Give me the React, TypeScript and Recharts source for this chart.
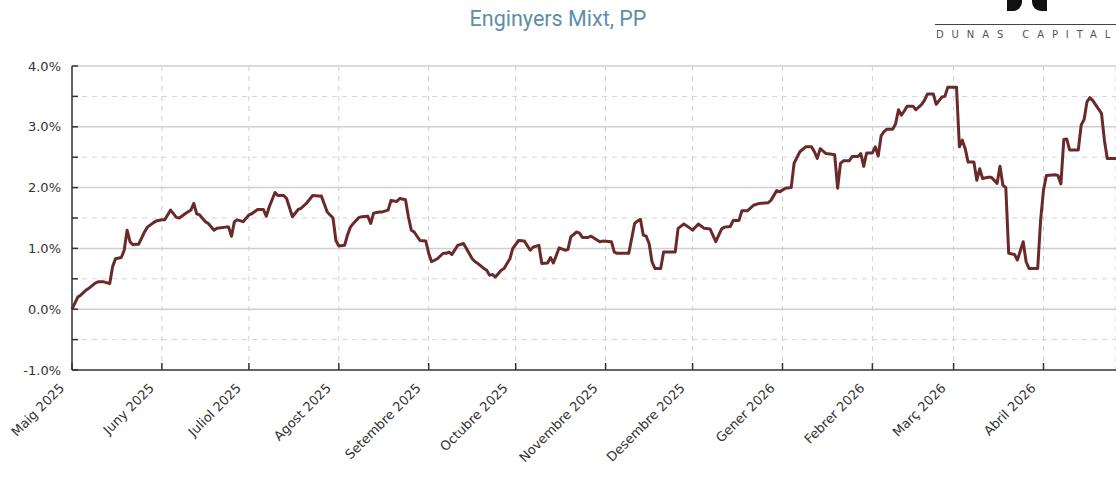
import React from "react";
import { LineChart, Line, XAxis, YAxis, CartesianGrid, ReferenceLine } from "recharts";

// days since 1 May 2025, and return in %
const days = [
  0, 1, 2, 3, 5, 6, 8, 9, 11, 13, 14, 15, 17, 18, 19, 20, 21, 22, 23, 25, 26, 28, 29, 31, 32, 34, 36, 37, 39, 41,
  42, 43, 44, 46, 47, 49, 50, 53, 54, 55, 56, 57, 59, 61, 62, 64, 66, 67, 68, 70, 71, 73, 74, 76, 78, 79, 81, 83, 85, 86,
  88, 90, 91, 92, 94, 95, 96, 97, 99, 100, 102, 103, 104, 106, 107, 109, 110, 112, 113, 115, 116, 117, 118, 120, 122, 123, 124, 126, 128, 129,
  130, 131, 133, 135, 136, 138, 139, 140, 142, 143, 144, 145, 146, 148, 149, 151, 152, 154, 156, 158, 159, 161, 162, 164, 165, 166, 168, 170, 171, 172,
  174, 175, 176, 178, 179, 182, 183, 186, 187, 188, 190, 192, 194, 195, 196, 197, 198, 199, 200, 201, 203, 204, 206, 208, 209, 211, 212, 214, 216, 218,
  220, 222, 224, 225, 227, 228, 230, 231, 233, 235, 237, 240, 241, 243, 244, 246, 248, 249, 251, 253, 255, 256, 257, 258, 260, 262, 263, 264, 265, 266,
  268, 269, 271, 272, 273, 274, 276, 277, 278, 279, 280, 281, 283, 284, 285, 286, 287, 288, 290, 291, 293, 294, 295, 297, 298, 299, 300, 301, 302, 305,
  306, 307, 308, 309, 311, 312, 313, 314, 316, 317, 319, 320, 321, 322, 323, 325, 326, 328, 329, 330, 333, 334, 335, 336, 339, 340, 341, 342, 343, 344,
  347, 348, 349, 350, 351, 352, 355, 356, 357, 360,
];
const values = [
  0.0, 0.1, 0.2, 0.23, 0.32, 0.35, 0.43, 0.45, 0.45, 0.42, 0.7, 0.83, 0.85, 0.97, 1.3, 1.11, 1.06, 1.07, 1.07, 1.27, 1.35, 1.42, 1.45, 1.47, 1.47, 1.63, 1.51, 1.5, 1.57, 1.63,
  1.74, 1.57, 1.55, 1.44, 1.41, 1.3, 1.33, 1.35, 1.35, 1.2, 1.44, 1.47, 1.44, 1.55, 1.57, 1.64, 1.64, 1.53, 1.68, 1.92, 1.87, 1.87, 1.82, 1.52, 1.64, 1.66, 1.75, 1.87, 1.86, 1.86,
  1.6, 1.5, 1.13, 1.04, 1.05, 1.22, 1.35, 1.41, 1.51, 1.52, 1.53, 1.41, 1.58, 1.6, 1.6, 1.63, 1.79, 1.77, 1.82, 1.8, 1.52, 1.3, 1.27, 1.13, 1.12, 0.92, 0.78, 0.83, 0.92, 0.92,
  0.94, 0.9, 1.05, 1.08, 1.0, 0.83, 0.78, 0.75, 0.67, 0.64, 0.56, 0.57, 0.53, 0.64, 0.67, 0.83, 1.0, 1.13, 1.12, 0.97, 1.02, 1.05, 0.75, 0.76, 0.85, 0.76, 1.01, 0.97, 0.98, 1.19,
  1.27, 1.25, 1.18, 1.18, 1.2, 1.11, 1.12, 1.11, 0.94, 0.92, 0.92, 0.92, 1.41, 1.45, 1.48, 1.22, 1.2, 1.08, 0.78, 0.67, 0.67, 0.94, 0.94, 0.94, 1.33, 1.4, 1.37, 1.3, 1.4, 1.33,
  1.32, 1.11, 1.32, 1.35, 1.36, 1.46, 1.46, 1.62, 1.62, 1.71, 1.74, 1.75, 1.79, 1.95, 1.93, 1.99, 2.0, 2.4, 2.59, 2.67, 2.67, 2.59, 2.48, 2.64, 2.56, 2.55, 2.54, 1.99, 2.4, 2.44,
  2.44, 2.51, 2.51, 2.56, 2.35, 2.57, 2.57, 2.67, 2.52, 2.85, 2.92, 2.96, 2.96, 3.05, 3.28, 3.19, 3.26, 3.34, 3.34, 3.28, 3.37, 3.44, 3.54, 3.54, 3.37, 3.43, 3.49, 3.5, 3.65, 3.65,
  2.67, 2.78, 2.64, 2.42, 2.42, 2.12, 2.31, 2.15, 2.17, 2.17, 2.07, 2.35, 2.04, 2.0, 0.92, 0.9, 0.81, 1.11, 0.78, 0.67, 0.67, 1.46, 1.96, 2.2, 2.21, 2.2, 2.06, 2.79, 2.8, 2.62,
  2.62, 3.03, 3.12, 3.41, 3.48, 3.43, 3.22, 2.78, 2.48, 2.48,
];

const monthStarts = [0, 31, 61, 92, 123, 153, 184, 214, 245, 276, 304, 335];
const monthLabels = [
  "Maig 2025", "Juny 2025", "Juliol 2025", "Agost 2025", "Setembre 2025", "Octubre 2025",
  "Novembre 2025", "Desembre 2025", "Gener 2026", "Febrer 2026", "Març 2026", "Abril 2026",
];
const yTicks = [-1, -0.5, 0, 0.5, 1, 1.5, 2, 2.5, 3, 3.5, 4];
const solidLines = [0, 1, 2, 3, 4];
const dashedLines = [-0.5, 0.5, 1.5, 2.5, 3.5];

const data = days.map((d, i) => ({ day: d, value: values[i] }));

const FONT = "'DejaVu Sans', sans-serif";

function YTick(props: any) {
  const { x, y, payload } = props;
  const v = payload.value as number;
  const major = Number.isInteger(v);
  return (
    <g>
      <line x1={x} x2={x + 6} y1={y} y2={y} stroke="#333" strokeWidth={1.5} />
      {major && (
        <text x={x - 11} y={y} dy="0.35em" textAnchor="end" fontSize={13} fill="#333" fontFamily={FONT}>
          {v.toFixed(1) + "%"}
        </text>
      )}
    </g>
  );
}

function XTick(props: any) {
  const { x, y, payload } = props;
  const idx = monthStarts.indexOf(payload.value);
  const ax = x - 7;
  const ay = y + 19;
  return (
    <g>
      <line x1={x} x2={x} y1={y} y2={y - 7} stroke="#333" strokeWidth={1.5} />
      <text x={ax} y={ay} textAnchor="end" fontSize={13} fill="#333" fontFamily={FONT}
        transform={`rotate(-45, ${ax}, ${ay})`}>
        {monthLabels[idx]}
      </text>
    </g>
  );
}

export default function App() {
  return (
    <div style={{ position: "relative", width: 1116, height: 477, background: "#fff", overflow: "hidden" }}>
      <style>{`body{margin:0}`}</style>
      <div style={{ position: "absolute", left: 0, width: 1116, top: 6, textAlign: "center",
        fontFamily: "Roboto, sans-serif", fontSize: 21.5, color: "#5e8ea9" }}>
        Enginyers Mixt, PP
      </div>
      {/* logo */}
      <div style={{ position: "absolute", left: 1007, top: -4, width: 15, height: 15, background: "#111",
        borderRadius: "0 0 9px 0" }} />
      <div style={{ position: "absolute", left: 1032, top: -4, width: 15, height: 15, background: "#111",
        borderRadius: "0 0 0 9px" }} />
      <div style={{ position: "absolute", left: 935, top: 24, width: 190, height: 1, background: "#444" }} />
      <div style={{ position: "absolute", left: 936, top: 29, fontFamily: "'DejaVu Sans', sans-serif",
        fontSize: 10, color: "#555", whiteSpace: "nowrap" }}>
        <span style={{ letterSpacing: 7.9 }}>DUNAS CAPITA</span>L
      </div>
      <LineChart width={1116} height={477} data={data} margin={{ top: 66, right: 0, bottom: 0, left: 0 }}>
        <CartesianGrid horizontal={false} stroke="#cfcfcf" strokeDasharray="5 5" />
        {solidLines.map((v) => (
          <ReferenceLine key={"s" + v} y={v} stroke="#cfcfcf" strokeWidth={1.5} />
        ))}
        {dashedLines.map((v) => (
          <ReferenceLine key={"d" + v} y={v} stroke="#d4d4d4" strokeDasharray="5 5" />
        ))}
        <XAxis dataKey="day" type="number" domain={[0, 360]} ticks={monthStarts} interval={0}
          height={107} tickSize={0} tickMargin={0} tick={<XTick />}
          axisLine={{ stroke: "#333", strokeWidth: 1.5 }} tickLine={false} />
        <YAxis type="number" domain={[-1, 4]} ticks={yTicks} interval={0} width={72}
          tickSize={0} tickMargin={0} tick={<YTick />}
          axisLine={{ stroke: "#333", strokeWidth: 1.5 }} tickLine={false} />
        <Line type="linear" dataKey="value" stroke="#6b2a2a" strokeWidth={3} dot={false}
          strokeLinejoin="round" isAnimationActive={false} />
      </LineChart>
    </div>
  );
}
